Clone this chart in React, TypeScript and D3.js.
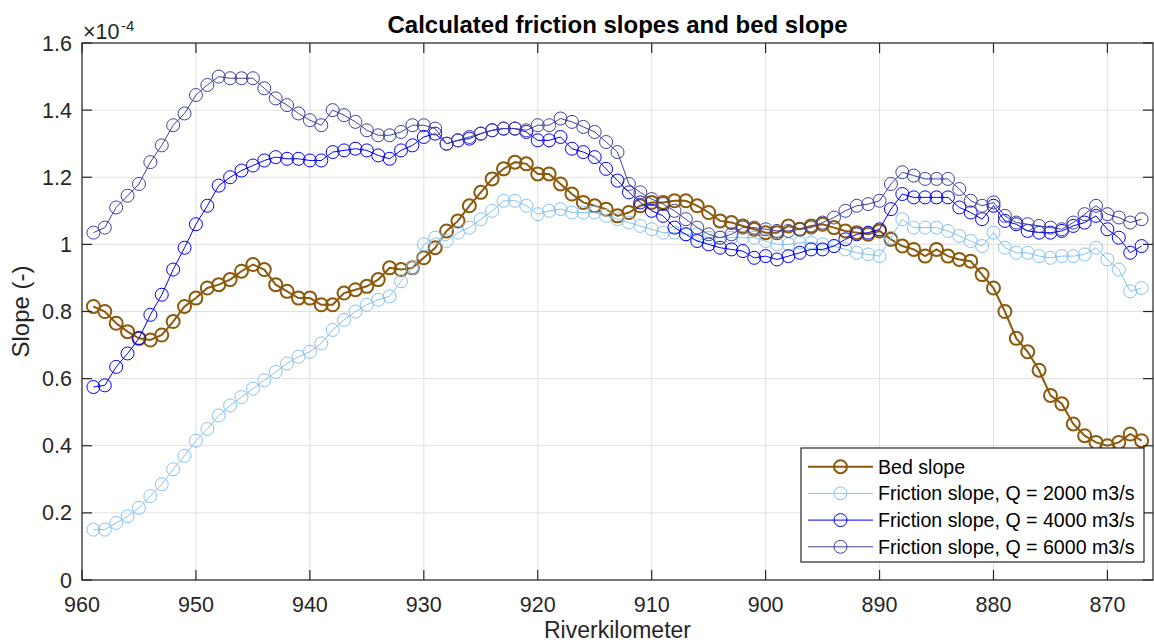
import React from "react";
import * as d3 from "d3";

const km = [
  959, 958, 957, 956, 955, 954, 953, 952, 951, 950,
  949, 948, 947, 946, 945, 944, 943, 942, 941, 940,
  939, 938, 937, 936, 935, 934, 933, 932, 931, 930,
  929, 928, 927, 926, 925, 924, 923, 922, 921, 920,
  919, 918, 917, 916, 915, 914, 913, 912, 911, 910,
  909, 908, 907, 906, 905, 904, 903, 902, 901, 900,
  899, 898, 897, 896, 895, 894, 893, 892, 891, 890,
  889, 888, 887, 886, 885, 884, 883, 882, 881, 880,
  879, 878, 877, 876, 875, 874, 873, 872, 871, 870,
  869, 868, 867,
];

const bedSlope = [
  0.815, 0.80, 0.765, 0.74, 0.72, 0.715, 0.73, 0.77, 0.815, 0.84,
  0.87, 0.88, 0.895, 0.92, 0.94, 0.925, 0.88, 0.86, 0.84, 0.84,
  0.82, 0.82, 0.855, 0.865, 0.875, 0.895, 0.93, 0.925, 0.93, 0.96,
  0.99, 1.04, 1.07, 1.115, 1.155, 1.195, 1.225, 1.245, 1.24, 1.21,
  1.21, 1.18, 1.15, 1.125, 1.115, 1.105, 1.085, 1.095, 1.115, 1.125,
  1.125, 1.13, 1.13, 1.115, 1.095, 1.07, 1.065, 1.055, 1.045, 1.035,
  1.035, 1.055, 1.045, 1.055, 1.06, 1.05, 1.04, 1.035, 1.03, 1.04,
  1.015, 0.995, 0.985, 0.965, 0.985, 0.965, 0.955, 0.95, 0.91, 0.87,
  0.80, 0.72, 0.68, 0.625, 0.55, 0.525, 0.465, 0.43, 0.41, 0.40,
  0.41, 0.435, 0.415,
];

const friction2000 = [
  0.15, 0.15, 0.17, 0.19, 0.215, 0.25, 0.285, 0.33, 0.37, 0.415,
  0.45, 0.49, 0.52, 0.545, 0.57, 0.595, 0.62, 0.645, 0.665, 0.68,
  0.705, 0.745, 0.775, 0.80, 0.82, 0.835, 0.845, 0.89, 0.93, 1.0,
  1.02, 1.01, 1.035, 1.05, 1.075, 1.10, 1.13, 1.13, 1.115, 1.09,
  1.10, 1.105, 1.095, 1.095, 1.095, 1.085, 1.075, 1.065, 1.055, 1.045,
  1.035, 1.035, 1.03, 1.03, 1.02, 1.02, 1.02, 1.02, 1.02, 1.01,
  1.0, 1.0, 1.005, 1.005, 1.0, 0.995, 0.985, 0.975, 0.97, 0.965,
  1.02, 1.075, 1.05, 1.05, 1.05, 1.04, 1.025, 1.01, 0.995, 1.035,
  0.99, 0.975, 0.975, 0.965, 0.96, 0.965, 0.965, 0.97, 0.99, 0.955,
  0.925, 0.86, 0.87,
];

const friction4000 = [
  0.575, 0.58, 0.635, 0.675, 0.72, 0.79, 0.85, 0.925, 0.99, 1.06,
  1.115, 1.175, 1.20, 1.22, 1.235, 1.25, 1.26, 1.255, 1.255, 1.25,
  1.25, 1.275, 1.28, 1.285, 1.28, 1.265, 1.255, 1.28, 1.295, 1.32,
  1.33, 1.30, 1.31, 1.315, 1.33, 1.34, 1.345, 1.345, 1.335, 1.31,
  1.31, 1.32, 1.285, 1.275, 1.26, 1.225, 1.19, 1.155, 1.125, 1.10,
  1.085, 1.05, 1.03, 1.01, 1.0, 0.99, 0.985, 0.98, 0.96, 0.965,
  0.955, 0.965, 0.975, 0.985, 0.985, 0.995, 1.015, 1.03, 1.035, 1.045,
  1.105, 1.15, 1.14, 1.14, 1.14, 1.14, 1.11, 1.095, 1.075, 1.115,
  1.07, 1.06, 1.04, 1.035, 1.035, 1.04, 1.055, 1.065, 1.085, 1.045,
  1.02, 0.975, 0.995,
];

const friction6000 = [
  1.035, 1.05, 1.11, 1.145, 1.18, 1.245, 1.295, 1.355, 1.39, 1.445,
  1.475, 1.50, 1.495, 1.495, 1.495, 1.465, 1.435, 1.415, 1.39, 1.37,
  1.355, 1.40, 1.385, 1.365, 1.34, 1.325, 1.325, 1.335, 1.355, 1.355,
  1.345, 1.30, 1.31, 1.32, 1.33, 1.34, 1.345, 1.345, 1.34, 1.355,
  1.355, 1.375, 1.365, 1.35, 1.335, 1.305, 1.275, 1.18, 1.155, 1.135,
  1.12, 1.10, 1.075, 1.05, 1.03, 1.02, 1.03, 1.05, 1.05, 1.045,
  1.04, 1.04, 1.045, 1.05, 1.065, 1.08, 1.10, 1.115, 1.12, 1.13,
  1.18, 1.215, 1.205, 1.195, 1.195, 1.195, 1.165, 1.13, 1.115, 1.125,
  1.085, 1.065, 1.06, 1.055, 1.05, 1.045, 1.065, 1.09, 1.115, 1.09,
  1.08, 1.065, 1.075,
];

const xTicks = [960, 950, 940, 930, 920, 910, 900, 890, 880, 870];
const yTicks = [0, 0.2, 0.4, 0.6, 0.8, 1, 1.2, 1.4, 1.6];

const seriesNames = [
  "Bed slope",
  "Friction slope, Q = 2000 m3/s",
  "Friction slope, Q = 4000 m3/s",
  "Friction slope, Q = 6000 m3/s",
];
const seriesColors = ["#8c590d", "#88c3ee", "#0000ff", "#4040a0"];
const seriesWidths = [2, 1, 1, 1];
const seriesData = [bedSlope, friction2000, friction4000, friction6000];

const W = 1154;
const H = 644;
const L = 82;
const R = 1153;
const T = 43;
const B = 580;
const AX = "#262626";
const FONT = "'Liberation Sans', Arial, Helvetica, sans-serif";

export default function App() {
  const x = d3.scaleLinear().domain([960, 866]).range([L, R]);
  const y = d3.scaleLinear().domain([0, 1.6]).range([B, T]);
  const line = d3
    .line<number>()
    .x((_, i) => x(km[i]))
    .y((d) => y(d));

  const legX = 801;
  const legY = 448;
  const legW = 343;
  const legH = 114;
  const rowH = 26.7;

  return (
    <svg
      width={W}
      height={H}
      style={{ position: "absolute", left: 0, top: 0, background: "#fff" }}
      fontFamily={FONT}
    >
      <rect x={0} y={0} width={W} height={H} fill="#fff" />
      {/* grid */}
      {xTicks.map((t) => (
        <line key={"gx" + t} x1={x(t)} x2={x(t)} y1={T} y2={B} stroke="#e0e0e0" strokeWidth={1} />
      ))}
      {yTicks.map((t) => (
        <line key={"gy" + t} x1={L} x2={R} y1={y(t)} y2={y(t)} stroke="#e0e0e0" strokeWidth={1} />
      ))}
      {/* series */}
      {seriesData.map((data, si) => (
        <g key={"s" + si}>
          <path d={line(data) || ""} fill="none" stroke={seriesColors[si]} strokeWidth={seriesWidths[si]} />
          {data.map((v, i) => (
            <circle
              key={i}
              cx={x(km[i])}
              cy={y(v)}
              r={6.5}
              fill="none"
              stroke={seriesColors[si]}
              strokeWidth={seriesWidths[si]}
            />
          ))}
        </g>
      ))}
      {/* axes box */}
      <rect x={L} y={T} width={R - L} height={B - T} fill="none" stroke={AX} strokeWidth={1.2} />
      {xTicks.map((t) => (
        <g key={"tx" + t}>
          <line x1={x(t)} x2={x(t)} y1={B} y2={B - 10} stroke={AX} strokeWidth={1.2} />
          <line x1={x(t)} x2={x(t)} y1={T} y2={T + 10} stroke={AX} strokeWidth={1.2} />
          <text x={x(t)} y={612} textAnchor="middle" fontSize={21.5} fill={AX}>
            {t}
          </text>
        </g>
      ))}
      {yTicks.map((t) => (
        <g key={"ty" + t}>
          <line x1={L} x2={L + 10} y1={y(t)} y2={y(t)} stroke={AX} strokeWidth={1.2} />
          <line x1={R} x2={R - 10} y1={y(t)} y2={y(t)} stroke={AX} strokeWidth={1.2} />
          <text x={72} y={y(t) + 7.5} textAnchor="end" fontSize={21.5} fill={AX}>
            {d3.format("~g")(t)}
          </text>
        </g>
      ))}
      {/* exponent */}
      <text x={83} y={39} fontSize={21.5} fill={AX}>
        ×10
      </text>
      <text x={121} y={31} fontSize={15} fill={AX}>
        -4
      </text>
      {/* title */}
      <text x={(L + R) / 2} y={33} textAnchor="middle" fontSize={24} fontWeight="bold" fill="#000">
        Calculated friction slopes and bed slope
      </text>
      {/* axis labels */}
      <text x={(L + R) / 2} y={638} textAnchor="middle" fontSize={23} fill={AX}>
        Riverkilometer
      </text>
      <text
        transform={`translate(29, ${(T + B) / 2}) rotate(-90)`}
        textAnchor="middle"
        fontSize={24}
        fill={AX}
      >
        Slope (-)
      </text>
      {/* legend */}
      <rect x={legX} y={legY} width={legW} height={legH} fill="#fff" stroke={AX} strokeWidth={1.2} />
      {seriesNames.map((name, si) => {
        const cy = legY + 18.7 + si * rowH;
        return (
          <g key={"l" + si}>
            <line x1={808} x2={873} y1={cy} y2={cy} stroke={seriesColors[si]} strokeWidth={seriesWidths[si]} />
            <circle cx={840.5} cy={cy} r={6.5} fill="none" stroke={seriesColors[si]} strokeWidth={seriesWidths[si]} />
            <text x={878} y={cy + 7} fontSize={19.6} fill="#000">
              {name}
            </text>
          </g>
        );
      })}
    </svg>
  );
}
